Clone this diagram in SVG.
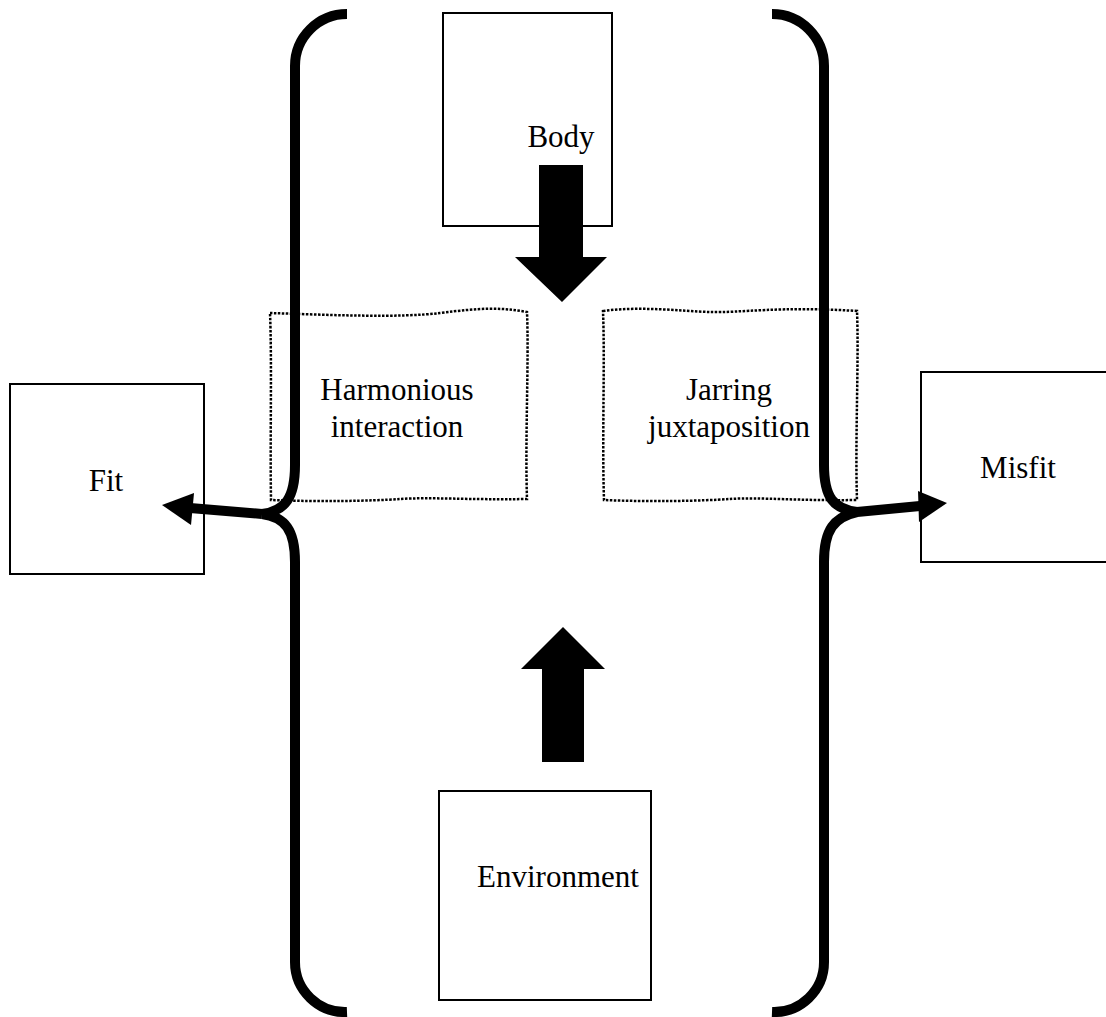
<svg xmlns="http://www.w3.org/2000/svg" width="1106" height="1017" viewBox="0 0 1106 1017">
<style>
.box{fill:#fff;stroke:#000;stroke-width:2}
.dot{fill:none;stroke:#000;stroke-width:2.5;stroke-dasharray:2.5 1.5}
.brace{fill:none;stroke:#000;stroke-width:10}
.lbl{font-family:"Liberation Serif","Times New Roman",serif;font-size:31px;fill:#000;text-anchor:middle}
.solid{fill:#000;stroke:none}
</style>
<rect width="1106" height="1017" fill="#fff"/>
<g id="harmonious">
<path class="dot" d="M270 313 C330 315 400 318 440 313 S500 307 527 312 C529 360 525 440 527 499 C470 500 430 497 400 499 S320 502 271 500 C270 440 272 360 270 313 Z"/>
<text class="lbl" x="397" y="400">Harmonious</text>
<text class="lbl" x="397" y="437">interaction</text>
</g>
<g id="jarring">
<path class="dot" d="M603 311 C640 306 680 311 710 312 S780 306 857 311 C859 360 855 440 857 500 C800 501 760 497 730 499 S650 502 604 500 C602 440 605 360 603 311 Z"/>
<text class="lbl" x="729" y="400">Jarring</text>
<text class="lbl" x="729" y="437">juxtaposition</text>
</g>
<g id="body">
<rect class="box" x="443" y="13" width="169" height="213"/>
<text class="lbl" x="561" y="147">Body</text>
</g>
<g id="environment">
<rect class="box" x="439" y="791" width="212" height="209"/>
<text class="lbl" x="558" y="887">Environment</text>
</g>
<g id="fit">
<rect class="box" x="10" y="384" width="194" height="190"/>
<text class="lbl" x="106" y="491">Fit</text>
</g>
<g id="misfit">
<rect class="box" x="921" y="372" width="190" height="190"/>
<text class="lbl" x="1018" y="478">Misfit</text>
</g>
<g id="connectors">
<path class="brace" d="M347 14 A52 52 0 0 0 295 66 L295 465 C295 498 285 511 262 514 C285 517 295 530 295 562 L295 962 A50 50 0 0 0 347 1012"/>
<path class="brace" d="M772 14 A52 52 0 0 1 824 66 L824 465 C824 498 834 509 857 512 C834 517 824 530 824 562 L824 962 A50 50 0 0 1 772 1012"/>
<path class="brace" d="M262 514 L190 508"/>
<polygon class="solid" points="162,505 194,493 191,525"/>
<path class="brace" d="M857 512 L920 506"/>
<polygon class="solid" points="947,503 918,491 919,522"/>
<polygon class="solid" points="539,165 583,165 583,257 607,257 562,302 515,257 539,257"/>
<polygon class="solid" points="563,627 605,669 584,669 584,762 542,762 542,669 521,669"/>
</g>
</svg>
